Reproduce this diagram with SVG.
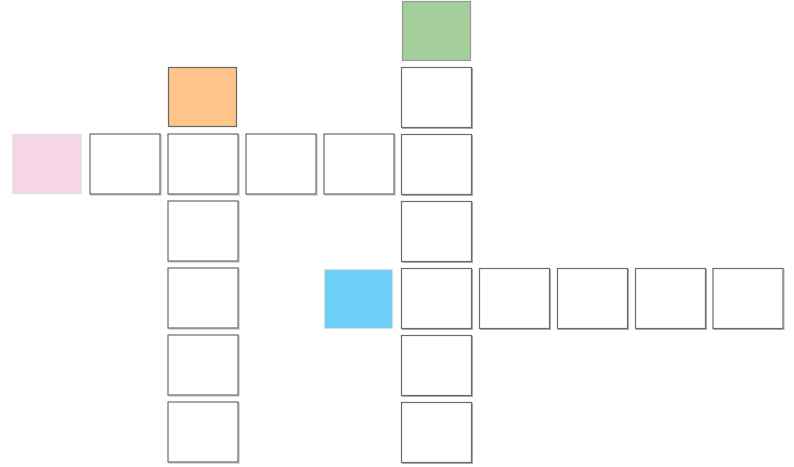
<svg xmlns="http://www.w3.org/2000/svg" xmlns:xlink="http://www.w3.org/1999/xlink" width="794" height="467" viewBox="0 0 794 467">
<style>
.box{fill:#ffffff;stroke:#6b6b6b;stroke-width:1.2}
.sh{fill:none;stroke:#b0b0b0;stroke-width:1}
.orange{fill:#FFC58B;stroke:#666666;stroke-width:1.2}
.green{fill:#A4CE9A;stroke:#999999;stroke-width:1.2}
.pink{fill:#F8D6E7;stroke:#dddddd;stroke-width:1.2}
.blue{fill:#6DCFF6;stroke:#dddddd;stroke-width:1.2}
</style>
<defs>
<g id="cell"><rect class="sh" x="1" y="1" width="70" height="60"/><rect class="box" x="0" y="0" width="70" height="60"/></g>
</defs>
<rect width="794" height="467" fill="#ffffff"/>
<g id="connectors"></g>
<g id="orange"><rect class="orange" x="168.5" y="67.5" width="68" height="59"/></g>
<g id="green"><rect class="green" x="402.5" y="1.5" width="68" height="59"/></g>
<g id="pink"><rect class="pink" x="13" y="134.5" width="68" height="59"/></g>
<g id="blue"><rect class="blue" x="324.5" y="269.5" width="68" height="59"/></g>
<g id="r1c1"><use xlink:href="#cell" x="90" y="134"/></g>
<g id="r1c2"><use xlink:href="#cell" x="168" y="134"/></g>
<g id="r1c3"><use xlink:href="#cell" x="246" y="134"/></g>
<g id="r1c4"><use xlink:href="#cell" x="324" y="134"/></g>
<g id="c2r2"><use xlink:href="#cell" x="168" y="201"/></g>
<g id="c2r3"><use xlink:href="#cell" x="168" y="268"/></g>
<g id="c2r4"><use xlink:href="#cell" x="168" y="335"/></g>
<g id="c2r5"><use xlink:href="#cell" x="168" y="402"/></g>
<g id="c5r0"><use xlink:href="#cell" x="401.5" y="67.5"/></g>
<g id="c5r1"><use xlink:href="#cell" x="401.5" y="134.5"/></g>
<g id="c5r2"><use xlink:href="#cell" x="401.5" y="201.5"/></g>
<g id="c5r3"><use xlink:href="#cell" x="401.5" y="268.5"/></g>
<g id="c5r4"><use xlink:href="#cell" x="401.5" y="335.5"/></g>
<g id="c5r5"><use xlink:href="#cell" x="401.5" y="402.5"/></g>
<g id="r3c6"><use xlink:href="#cell" x="479.5" y="268.5"/></g>
<g id="r3c7"><use xlink:href="#cell" x="557.5" y="268.5"/></g>
<g id="r3c8"><use xlink:href="#cell" x="635.5" y="268.5"/></g>
<g id="r3c9"><use xlink:href="#cell" x="713" y="268.5"/></g>
</svg>
